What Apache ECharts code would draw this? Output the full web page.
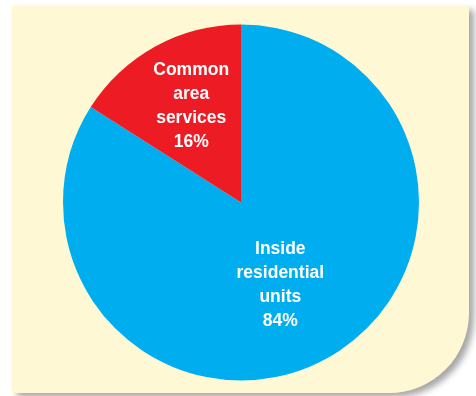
<!DOCTYPE html>
<html>
<head>
<meta charset="utf-8">
<style>
html,body{margin:0;padding:0;background:#ffffff;}
#chart{width:476px;height:396px;}
</style>
<script src="https://cdn.jsdelivr.net/npm/echarts@6/dist/echarts.min.js"></script>
</head>
<body>
<div id="chart"></div>
<script>
const categories = ['Inside\nresidential\nunits', 'Common\narea\nservices'];
const shares = [84, 16];
const colors = ['#00aeef', '#ed1c24'];
const labelOffsets = [[-5, 2], [-5.5, -16]];

const chart = echarts.init(document.getElementById('chart'), null, {renderer: 'canvas'});
chart.setOption({
  animation: false,
  backgroundColor: '#ffffff',
  graphic: [{
    type: 'rect',
    z: -10,
    shape: {x: 12, y: 6, width: 457, height: 387, r: [0, 0, 80, 0]},
    style: {
      fill: '#fef9d4',
      shadowBlur: 6,
      shadowOffsetX: 5,
      shadowOffsetY: 4,
      shadowColor: 'rgba(0,0,0,0.35)'
    }
  }],
  series: [{
    type: 'pie',
    center: [241, 202.5],
    radius: [0, 178],
    startAngle: 90,
    clockwise: true,
    silent: true,
    label: {
      show: true,
      position: 'inside',
      formatter: '{b}\n{c}%',
      color: '#ffffff',
      fontFamily: 'Liberation Sans, Arial, sans-serif',
      fontWeight: 'bold',
      fontSize: 17.5,
      lineHeight: 24,
      align: 'center'
    },
    labelLine: {show: false},
    itemStyle: {borderWidth: 0},
    data: categories.map((c, i) => ({
      name: c,
      value: shares[i],
      itemStyle: {color: colors[i]},
      label: {offset: labelOffsets[i]}
    }))
  }]
});
</script>
</body>
</html>
